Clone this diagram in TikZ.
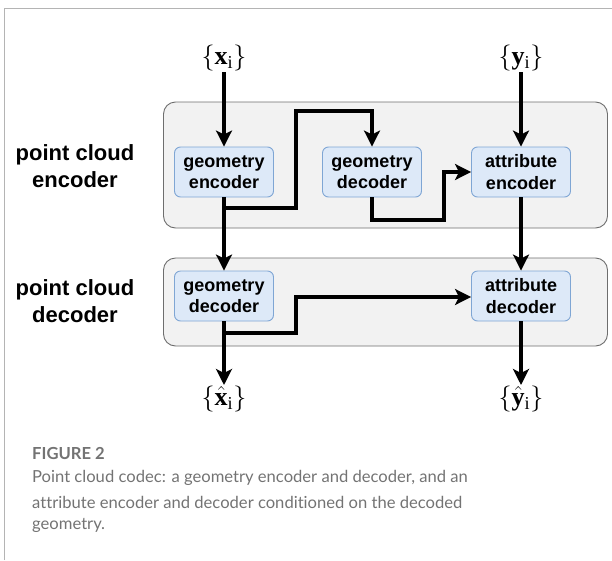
\RequirePackage{fix-cm}
\documentclass[tikz,border=0pt]{standalone}
\usepackage{fontspec}
\setmainfont{Liberation Serif}
\newfontfamily\diagfont{Liberation Sans}
\newfontfamily\capfont{Lato}[Ligatures={NoCommon}]
\usetikzlibrary{arrows.meta}
\definecolor{framegray}{HTML}{B4B4B4}
\definecolor{contfill}{HTML}{F2F2F2}
\definecolor{contdraw}{HTML}{6E6E6E}
\definecolor{boxfill}{HTML}{DDE9F8}
\definecolor{boxdraw}{HTML}{7FA6D4}
\definecolor{captext}{HTML}{737373}
\begin{document}
\begin{tikzpicture}[x=1pt,y=-1pt,
  container/.style={draw=contdraw,fill=contfill,line width=0.9pt,rounded corners=12pt},
  block/.style={draw=boxdraw,fill=boxfill,line width=0.9pt,rounded corners=6pt,
    minimum width=99pt,minimum height=50pt,inner sep=0pt,align=center,
    font=\diagfont\bfseries\fontsize{18}{21.5}\selectfont},
  sidelabel/.style={align=center,font=\diagfont\bfseries\fontsize{22}{27}\selectfont},
  mathlabel/.style={inner sep=1pt,font=\fontsize{26}{28}\selectfont},
  arr/.style={line width=3.3pt,line join=miter,-{Stealth[length=16pt,width=16pt,inset=4pt]}},
  capline/.style={anchor=west,inner sep=0pt,text=captext,font=\capfont\fontsize{16.6}{20}\selectfont}
]
\useasboundingbox (0,0) rectangle (612,560);
% frame
\draw[framegray,line width=1.4pt] (4.5,560) -- (4.5,8.5) -- (612,8.5);
% containers
\node[container,minimum width=444pt,minimum height=126pt,inner sep=0pt] (encbox) at (385.5,165) {};
\node[container,minimum width=444pt,minimum height=88pt,inner sep=0pt] (decbox) at (385.5,302) {};
% side labels
\node[sidelabel] (enclab) at (75,166) {point cloud\\encoder};
\node[sidelabel] (declab) at (75,301) {point cloud\\decoder};
% blocks
\node[block] (ge)  at (224,172) {geometry\\encoder};
\node[block] (gde) at (372,172) {geometry\\decoder};
\node[block] (ae)  at (521,172) {attribute\\encoder};
\node[block] (gdd) at (224,296) {geometry\\decoder};
\node[block] (ad)  at (521,296) {attribute\\decoder};
% math labels
\node[mathlabel,anchor=south] (xi) at (224,72) {$\{\mathbf{x}_\mathrm{i}\}$};
\node[mathlabel,anchor=south] (yi) at (521,72) {$\{\mathbf{y}_\mathrm{i}\}$};
\node[mathlabel,anchor=north] (xh) at (224,385) {$\{\hat{\mathbf{x}}_\mathrm{i}\}$};
\node[mathlabel,anchor=north] (yh) at (521,385) {$\{\hat{\mathbf{y}}_\mathrm{i}\}$};
% connector corners
\coordinate (b1) at (224,208);
\coordinate (c1) at (296,111);
\coordinate (c2) at (444,220);
\coordinate (b2) at (224,333);
\coordinate (c3) at (296,297);
% connectors
\draw[arr] (xi) -- (ge);
\draw[arr] (yi) -- (ae);
\draw[arr] (ge) -- (gdd);
\draw[arr] (b1) -| (c1) -| (gde);
\draw[arr] (gde) |- (c2) |- (ae);
\draw[arr] (ae) -- (ad);
\draw[arr] (gdd) -- (xh);
\draw[arr] (ad) -- (yh);
\draw[arr] (b2) -| (c3) -- (ad.west |- c3);
% caption
\node[capline,font=\capfont\bfseries\fontsize{16.6}{20}\selectfont] (fig) at (32,453) {FIGURE 2};
\node[capline] (cap1) at (32,478) {Point cloud codec: a geometry encoder and decoder, and an};
\node[capline] (cap2) at (32,502) {attribute encoder and decoder conditioned on the decoded};
\node[capline] (cap3) at (32,525) {geometry.};
\end{tikzpicture}
\end{document}
